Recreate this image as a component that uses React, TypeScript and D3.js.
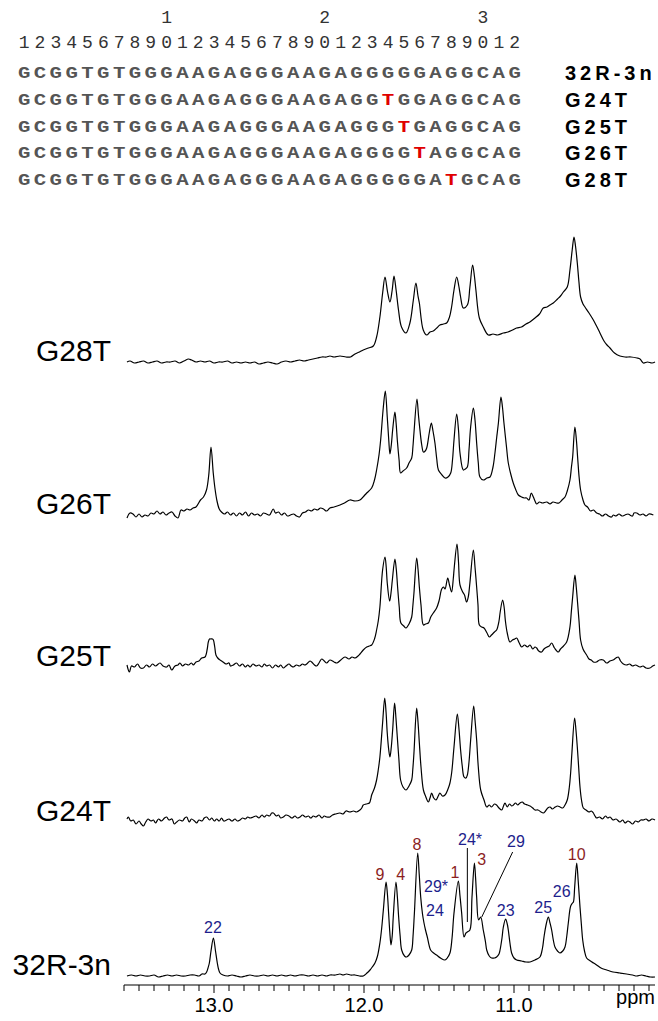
import React from 'react';
import * as d3 from 'd3';

// ---------- sequence panel data ----------
const seqNames = ['32R-3n', 'G24T', 'G25T', 'G26T', 'G28T'];
const sequences = [
  'GCGGTGTGGGAAGAGGGAAGAGGGGGAGGCAG',
  'GCGGTGTGGGAAGAGGGAAGAGGTGGAGGCAG',
  'GCGGTGTGGGAAGAGGGAAGAGGGTGAGGCAG',
  'GCGGTGTGGGAAGAGGGAAGAGGGGTAGGCAG',
  'GCGGTGTGGGAAGAGGGAAGAGGGGGATGCAG',
];
const mutationPositions = [0, 24, 25, 26, 28];
const tensLabels = ['1', '2', '3'];
const tensPositions = [10, 20, 30];

// ---------- spectra data: [ppm, intensity] ----------
const spectrumNames = ['G28T', 'G26T', 'G25T', 'G24T', '32R-3n'];

const g28t: [number, number][] = [
  [13.58,0],[13.56,1],[13.53,-1],[13.50,0],[13.47,1],[13.44,-1],[13.41,0],[13.38,1],[13.35,-1],[13.32,0],[13.29,0],[13.26,1],[13.23,-1],[13.20,1],[13.17,3],[13.15,2],[13.12,0],[13.09,1],[13.06,0],[13.03,1],[13.00,-1],[12.97,0],[12.94,0],[12.91,1],[12.88,-1],[12.85,0],[12.82,-1],[12.79,0],[12.76,-1],[12.73,0],[12.70,-2],[12.67,-1],[12.64,0],[12.61,-1],[12.58,-2],[12.55,0],[12.52,1],[12.49,0],[12.46,1],[12.43,2],[12.40,1],[12.37,2],[12.34,3],[12.31,4],[12.28,5],[12.25,5],[12.227,6],
  [12.20,5],[12.16,6],[12.12,5],[12.09,5],[12.06,8],[12.03,10],[12.005,12],[11.97,14],[11.938,16],[11.916,25],[11.894,45],[11.875,70],[11.86,85],[11.843,70],[11.827,60],[11.812,72],[11.80,86],[11.786,72],[11.77,52],[11.75,35],[11.72,29],[11.694,39],[11.671,62],[11.654,79],[11.64,66],[11.631,59],[11.605,32],[11.582,27],[11.56,30],[11.538,31],[11.515,34],[11.494,37],[11.47,38],[11.449,39],[11.43,45],[11.416,55],[11.40,72],[11.382,85],[11.368,76],[11.356,65],[11.338,54],[11.311,57],[11.294,75],[11.276,97],[11.264,86],[11.254,72],[11.231,44],[11.205,35],[11.171,27],[11.14,28],[11.11,27],[11.071,29],[11.04,30],[11.01,32],[10.983,34],[10.95,35],[10.92,38],[10.894,40],[10.86,44],[10.83,48],[10.805,54],[10.78,55],[10.76,57],[10.738,59],[10.71,63],[10.69,66],[10.671,70],[10.645,75],[10.627,92],[10.612,112],[10.60,125],[10.59,116],[10.578,99],[10.567,80],[10.556,65],[10.54,58],[10.527,55],[10.50,49],[10.471,42],[10.45,36],[10.427,29],[10.40,21],[10.38,17],[10.36,14],[10.33,9],[10.294,6],[10.26,5],[10.22,5],[10.18,4],[10.16,3],[10.138,-1],[10.11,0],[10.08,-1],[10.06,0],
];

const g26t: [number, number][] = [
  [13.58,-3],[13.56,2],[13.54,1],[13.52,-2],[13.50,1],[13.48,-2],[13.46,0],[13.44,-1],[13.42,2],[13.40,1],[13.38,4],[13.36,1],[13.34,3],[13.32,0],[13.30,2],[13.28,3],[13.26,-1],[13.24,-3],[13.22,5],[13.20,4],[13.18,6],[13.16,5],[13.14,7],[13.12,8],[13.09,15],[13.07,18],[13.05,25],[13.035,40],[13.02,68],[13.005,42],[12.993,26],[12.98,14],[12.965,6],[12.95,3],[12.93,1],[12.91,3],[12.89,0],[12.87,2],[12.85,-1],[12.83,2],[12.81,0],[12.79,3],[12.77,-1],[12.75,2],[12.73,0],[12.71,1],[12.69,-1],[12.67,2],[12.65,1],[12.63,0],[12.605,6],[12.59,2],[12.57,3],[12.55,0],[12.53,2],[12.51,-1],[12.49,0],[12.47,1],[12.45,-1],[12.43,-2],[12.41,2],[12.39,3],[12.37,5],[12.35,4],[12.33,6],[12.31,5],[12.29,7],[12.27,6],[12.25,4],[12.227,7],
  [12.20,8],[12.16,10],[12.13,12],[12.094,15],[12.06,14],[12.027,15],[12.00,19],[11.982,22],[11.949,27],[11.93,35],[11.916,45],[11.90,60],[11.889,75],[11.871,108],[11.858,124],[11.845,98],[11.835,75],[11.827,61],[11.818,70],[11.809,85],[11.794,103],[11.786,92],[11.778,75],[11.766,55],[11.756,42],[11.74,44],[11.716,47],[11.70,52],[11.682,57],[11.674,68],[11.667,82],[11.647,116],[11.637,100],[11.627,85],[11.615,70],[11.604,63],[11.592,64],[11.582,67],[11.565,82],[11.551,92],[11.54,84],[11.527,72],[11.515,56],[11.504,45],[11.48,40],[11.46,37],[11.44,38],[11.422,42],[11.41,55],[11.40,75],[11.382,101],[11.37,85],[11.36,62],[11.338,45],[11.325,46],[11.311,48],[11.30,65],[11.289,88],[11.271,107],[11.26,95],[11.249,72],[11.238,52],[11.227,38],[11.205,35],[11.18,37],[11.16,38],[11.14,48],[11.127,62],[11.115,78],[11.104,92],[11.087,118],[11.077,108],[11.067,92],[11.05,68],[11.038,52],[11.02,40],[11.005,32],[10.99,26],[10.971,20],[10.95,18],[10.93,17],[10.916,17],[10.90,15],[10.885,22],[10.871,18],[10.86,14],[10.849,11],[10.83,13],[10.81,12],[10.782,13],[10.76,11],[10.74,13],[10.716,12],[10.70,12],[10.68,15],[10.66,18],[10.645,24],[10.627,35],[10.617,48],[10.609,58],[10.594,88],[10.584,75],[10.576,58],[10.566,38],[10.556,25],[10.54,15],[10.527,10],[10.51,8],[10.49,4],[10.47,5],[10.449,2],[10.43,1],[10.41,-1],[10.39,1],[10.37,-1],[10.35,-2],[10.338,0],[10.32,-1],[10.30,1],[10.28,-1],[10.26,0],[10.24,1],[10.227,0],[10.21,-1],[10.20,2],[10.182,2],[10.16,0],[10.14,1],[10.12,-1],[10.10,1],[10.071,0],
];

const g25t: [number, number][] = [
  [13.58,2],[13.564,-5],[13.55,1],[13.53,0],[13.51,3],[13.49,-1],[13.471,-1],[13.45,2],[13.43,0],[13.41,3],[13.39,1],[13.36,4],[13.34,1],[13.316,0],[13.30,2],[13.282,-3],[13.26,1],[13.24,2],[13.227,4],[13.21,1],[13.19,3],[13.17,2],[13.15,4],[13.138,2],[13.12,5],[13.10,6],[13.082,9],[13.06,10],[13.045,18],[13.038,25],[13.03,28],[13.022,28],[13.01,28],[13.004,27],[12.995,20],[12.987,12],[12.975,9],[12.96,7],[12.94,5],[12.92,3],[12.90,4],[12.89,1],[12.871,2],[12.85,4],[12.83,1],[12.81,3],[12.79,0],[12.775,2],[12.76,0],[12.74,3],[12.72,1],[12.70,2],[12.68,0],[12.665,3],[12.649,1],[12.63,2],[12.61,-1],[12.59,2],[12.57,0],[12.555,2],[12.538,-1],[12.52,1],[12.50,3],[12.485,1],[12.471,0],[12.45,2],[12.43,1],[12.41,3],[12.395,2],[12.382,3],[12.36,6],[12.349,5],[12.33,2],[12.316,1],[12.30,4],[12.282,8],[12.265,6],[12.249,4],[12.227,7],
  [12.20,5],[12.18,4],[12.155,7],[12.127,10],[12.10,8],[12.08,10],[12.06,9],[12.04,11],[12.027,13],[12.005,17],[11.982,20],[11.965,21],[11.949,22],[11.93,28],[11.916,37],[11.905,46],[11.894,60],[11.876,97],[11.86,110],[11.852,100],[11.845,84],[11.829,66],[11.82,74],[11.811,87],[11.794,108],[11.785,98],[11.776,80],[11.765,60],[11.754,44],[11.735,41],[11.72,39],[11.70,43],[11.682,50],[11.675,60],[11.667,74],[11.649,109],[11.64,98],[11.631,80],[11.62,62],[11.604,42],[11.59,43],[11.571,44],[11.555,50],[11.538,54],[11.516,59],[11.50,66],[11.482,78],[11.47,80],[11.46,78],[11.442,89],[11.43,82],[11.416,75],[11.405,88],[11.398,100],[11.38,123],[11.37,105],[11.36,82],[11.342,75],[11.33,72],[11.316,65],[11.305,70],[11.294,84],[11.271,117],[11.26,100],[11.249,80],[11.24,62],[11.231,42],[11.215,40],[11.20,39],[11.18,34],[11.164,30],[11.15,32],[11.13,35],[11.116,37],[11.10,46],[11.093,54],[11.076,67],[11.066,60],[11.058,47],[11.045,34],[11.027,25],[11.01,27],[10.995,28],[10.982,29],[10.965,24],[10.949,20],[10.93,22],[10.91,20],[10.893,22],[10.875,18],[10.86,20],[10.849,19],[10.835,16],[10.816,15],[10.80,18],[10.78,20],[10.765,21],[10.749,24],[10.73,19],[10.705,15],[10.69,18],[10.67,21],[10.649,25],[10.627,40],[10.618,55],[10.609,70],[10.594,92],[10.585,80],[10.576,64],[10.566,45],[10.556,27],[10.54,18],[10.516,12],[10.50,8],[10.485,7],[10.471,5],[10.45,5],[10.43,7],[10.405,7],[10.382,4],[10.36,6],[10.34,7],[10.32,9],[10.305,10],[10.29,6],[10.271,3],[10.25,2],[10.23,3],[10.21,1],[10.19,2],[10.16,0],[10.14,1],[10.12,-1],[10.094,-1],[10.075,1],[10.06,2],
];

const g24t: [number, number][] = [
  [13.58,3],[13.571,5],[13.555,1],[13.538,2],[13.52,-2],[13.50,1],[13.485,-2],[13.471,-4],[13.455,0],[13.44,3],[13.42,1],[13.404,2],[13.39,-1],[13.37,3],[13.35,1],[13.33,4],[13.316,5],[13.30,2],[13.28,3],[13.265,-2],[13.249,0],[13.23,2],[13.21,1],[13.195,4],[13.182,5],[13.165,0],[13.15,3],[13.13,1],[13.116,-1],[13.10,2],[13.08,1],[13.065,4],[13.049,5],[13.03,2],[13.015,4],[12.998,1],[12.982,3],[12.965,1],[12.95,4],[12.935,1],[12.916,2],[12.90,3],[12.88,1],[12.86,3],[12.845,1],[12.827,2],[12.81,4],[12.79,3],[12.775,5],[12.76,4],[12.738,5],[12.72,6],[12.70,4],[12.68,7],[12.665,5],[12.649,7],[12.63,6],[12.615,9],[12.604,9],[12.585,6],[12.57,7],[12.555,4],[12.538,5],[12.52,7],[12.50,6],[12.48,4],[12.46,6],[12.445,4],[12.427,5],[12.41,7],[12.39,5],[12.37,6],[12.355,4],[12.338,6],[12.32,5],[12.30,7],[12.28,4],[12.265,6],[12.249,5],[12.227,5],
  [12.21,7],[12.19,8],[12.16,9],[12.14,8],[12.12,11],[12.094,10],[12.07,11],[12.05,10],[12.027,12],[12.015,14],[12.005,17],[11.985,18],[11.964,19],[11.955,23],[11.949,27],[11.93,34],[11.916,42],[11.905,52],[11.894,65],[11.876,99],[11.862,124],[11.853,110],[11.845,89],[11.835,72],[11.827,65],[11.818,75],[11.809,92],[11.796,119],[11.787,104],[11.778,85],[11.767,62],[11.756,42],[11.74,35],[11.72,32],[11.70,36],[11.682,42],[11.675,52],[11.667,69],[11.649,114],[11.64,100],[11.631,79],[11.62,55],[11.604,32],[11.59,26],[11.571,20],[11.56,24],[11.549,29],[11.535,24],[11.52,22],[11.505,26],[11.494,29],[11.478,26],[11.46,27],[11.44,33],[11.427,39],[11.415,50],[11.40,75],[11.378,108],[11.368,95],[11.356,72],[11.345,56],[11.333,45],[11.32,44],[11.311,47],[11.30,60],[11.289,82],[11.269,116],[11.26,102],[11.249,82],[11.238,55],[11.222,32],[11.20,22],[11.182,15],[11.165,17],[11.15,15],[11.13,18],[11.116,17],[11.10,14],[11.082,12],[11.07,16],[11.06,19],[11.045,15],[11.03,18],[11.015,16],[11.004,17],[10.99,19],[10.975,17],[10.96,19],[10.945,20],[10.93,18],[10.91,17],[10.893,16],[10.875,14],[10.86,12],[10.84,12],[10.82,10],[10.805,9],[10.79,11],[10.775,14],[10.76,15],[10.745,13],[10.725,15],[10.71,16],[10.693,15],[10.675,14],[10.66,17],[10.645,22],[10.631,35],[10.622,50],[10.614,69],[10.596,104],[10.587,92],[10.578,75],[10.569,55],[10.56,35],[10.55,22],[10.538,14],[10.52,12],[10.50,10],[10.485,11],[10.471,9],[10.46,6],[10.449,4],[10.43,5],[10.41,3],[10.39,6],[10.375,4],[10.36,5],[10.34,2],[10.32,3],[10.294,0],[10.275,2],[10.26,-1],[10.24,1],[10.227,0],[10.21,-2],[10.19,1],[10.17,0],[10.155,2],[10.138,2],[10.12,3],[10.10,1],[10.08,3],[10.06,2],
];

const r32: [number, number][] = [
  [13.58,0],[13.55,1],[13.52,0],[13.49,1],[13.46,0],[13.43,0],[13.40,1],[13.37,-1],[13.34,0],[13.31,1],[13.28,0],[13.25,1],[13.22,0],[13.19,0],[13.16,1],[13.13,1],[13.10,0],[13.08,2],[13.06,2],[13.049,4],[13.04,8],[13.031,13],[13.02,25],[13.004,38],[12.99,25],[12.978,13],[12.97,7],[12.96,3],[12.94,1],[12.91,0],[12.88,1],[12.85,0],[12.82,-1],[12.79,0],[12.76,1],[12.73,0],[12.70,0],[12.67,1],[12.64,0],[12.61,1],[12.58,0],[12.55,1],[12.52,0],[12.49,1],[12.46,0],[12.43,1],[12.40,1],[12.37,0],[12.34,1],[12.31,0],[12.28,1],[12.25,0],[12.227,1],
  [12.19,1],[12.16,2],[12.14,1],[12.116,2],[12.09,1],[12.06,1],[12.03,0],[12.005,0],[11.98,3],[11.96,6],[11.945,9],[11.927,13],[11.91,20],[11.894,33],[11.882,48],[11.871,66],[11.853,94],[11.844,82],[11.836,63],[11.828,44],[11.82,31],[11.812,40],[11.805,59],[11.787,94],[11.778,80],[11.769,59],[11.759,40],[11.749,26],[11.73,20],[11.716,19],[11.70,21],[11.682,26],[11.673,40],[11.664,63],[11.642,123],[11.632,102],[11.622,79],[11.61,62],[11.60,53],[11.59,46],[11.578,39],[11.556,26],[11.536,23],[11.516,21],[11.49,18],[11.46,16],[11.445,18],[11.427,23],[11.413,38],[11.40,63],[11.371,95],[11.36,80],[11.349,63],[11.333,39],[11.32,43],[11.311,44],[11.294,46],[11.28,79],[11.264,113],[11.256,98],[11.249,79],[11.236,56],[11.222,59],[11.205,46],[11.19,34],[11.182,26],[11.165,20],[11.149,18],[11.13,18],[11.116,19],[11.10,22],[11.093,26],[11.08,38],[11.071,49],[11.056,57],[11.045,52],[11.038,46],[11.027,33],[11.016,23],[11.00,18],[10.982,16],[10.95,15],[10.92,14],[10.893,14],[10.86,16],[10.827,19],[10.81,28],[10.80,39],[10.785,52],[10.771,59],[10.76,53],[10.749,46],[10.738,36],[10.727,29],[10.71,25],[10.694,23],[10.675,25],[10.66,29],[10.648,40],[10.638,53],[10.622,70],[10.61,73],[10.604,74],[10.595,90],[10.582,113],[10.572,95],[10.56,69],[10.55,50],[10.542,36],[10.53,25],[10.516,18],[10.49,15],[10.47,13],[10.449,11],[10.42,8],[10.382,6],[10.34,4],[10.294,3],[10.25,2],[10.21,1],[10.182,0],[10.15,1],[10.12,0],[10.09,-1],[10.06,-1],
];

const spectra = [g28t, g26t, g25t, g24t, r32];

// ---------- peak assignments (32R-3n): [label, ppm, intensity, group] ----------
const assignLabels: [string, number, number, 'red' | 'blue'][] = [
  ['22', 13.007, 43, 'blue'],
  ['9', 11.893, 96, 'red'],
  ['4', 11.755, 96, 'red'],
  ['8', 11.647, 126, 'red'],
  ['29*', 11.52, 84, 'blue'],
  ['24', 11.527, 60, 'blue'],
  ['1', 11.393, 98, 'red'],
  ['24*', 11.293, 131, 'blue'],
  ['3', 11.215, 111, 'red'],
  ['29', 10.987, 129, 'blue'],
  ['23', 11.055, 60, 'blue'],
  ['25', 10.805, 63, 'blue'],
  ['26', 10.682, 79, 'blue'],
  ['10', 10.582, 116, 'red'],
];
// leader lines: [ppm1, int1, ppm2, int2]
const leaderLines: [number, number, number, number][] = [
  [11.311, 128, 11.311, 54],
  [11.009, 124, 11.215, 59],
];

const ppmDomain: [number, number] = [13.6, 10.06];
const majorTickValues = [13.0, 12.0, 11.0];

export default function App() {
  const W = 658, H = 1021;
  const x = d3.scaleLinear().domain(ppmDomain).range([124, 655]);
  const baselines = [362, 515, 667, 822, 976];
  const axisY = 985;
  const sans = 'Arial, "Liberation Sans", sans-serif';
  const mono = '"Courier New", "Liberation Mono", monospace';
  const charX = (i: number) => 24.2 + i * 15.82;
  const seqBase = (r: number) => 78.3 + r * 26.7;
  const red = '#e00000';
  const annRed = '#8b1e1e';
  const annBlue = '#1e1e8c';

  const ticks = d3.ticks(ppmDomain[1], ppmDomain[0], 36);

  const yFor = (i: number) => d3.scaleLinear().domain([0, 100]).range([baselines[i], baselines[i] - 100]);

  return (
    <svg width={W} height={H} style={{ position: 'absolute', left: 0, top: 0, background: '#fff' }}>
      <rect x={0} y={0} width={W} height={H} fill="#fff" />
      {/* Sequence header */}
      {tensLabels.map((t, k) => (
        <text key={'t' + k} x={charX(tensPositions[k] - 1)} y={23.3} fontFamily={mono} fontSize={18} fill="#333" textAnchor="middle">{t}</text>
      ))}
      {d3.range(32).map((i) => (
        <text key={'n' + i} x={charX(i)} y={48.3} fontFamily={mono} fontSize={18} fill="#333" textAnchor="middle">{String((i + 1) % 10)}</text>
      ))}
      {sequences.map((s, r) => (
        <g key={'s' + r}>
          {s.split('').map((c, i) => (
            <text key={i} transform={`translate(${charX(i)},${seqBase(r)}) scale(1.22,1)`} fontFamily={mono} fontWeight="bold" fontSize={17}
              fill={mutationPositions[r] === i + 1 ? red : '#555'} textAnchor="middle">{c}</text>
          ))}
          <text x={565} y={seqBase(r) + 2} fontFamily={sans} fontWeight="bold" fontSize={20} letterSpacing={4} fill="#000">{seqNames[r]}</text>
        </g>
      ))}

      {/* Spectra */}
      {spectra.map((data, i) => {
        const y = yFor(i);
        const line = d3.line<[number, number]>()
          .x((d) => x(d[0]))
          .y((d) => y(d[1]))
          .curve(d3.curveCatmullRom.alpha(0.5));
        return (
          <g key={'sp' + i}>
            <path d={line(data) || ''} fill="none" stroke="#000" strokeWidth={1.2} strokeLinejoin="round" />
            <text x={111} y={baselines[i] - 1} fontFamily={sans} fontSize={30} textAnchor="end" fill="#000">{spectrumNames[i]}</text>
          </g>
        );
      })}

      {/* Assignments on 32R-3n */}
      {(() => {
        const y = yFor(4);
        return (
          <g>
            {leaderLines.map((l, k) => (
              <line key={'ll' + k} x1={x(l[0])} y1={y(l[1])} x2={x(l[2])} y2={y(l[3])} stroke="#000" strokeWidth={1} />
            ))}
            {assignLabels.map((a, k) => (
              <text key={'a' + k} x={x(a[1])} y={y(a[2])} fontFamily={sans} fontSize={16} textAnchor="middle"
                fill={a[3] === 'red' ? annRed : annBlue}>{a[0]}</text>
            ))}
          </g>
        );
      })()}

      {/* Axis */}
      <line x1={x(ppmDomain[0])} x2={x(ppmDomain[1])} y1={axisY} y2={axisY} stroke="#000" strokeWidth={1.2} />
      {ticks.map((t, k) => {
        const major = majorTickValues.some((m) => Math.abs(m - t) < 1e-6);
        return <line key={'tk' + k} x1={x(t)} x2={x(t)} y1={axisY} y2={axisY + (major ? 8 : 6)} stroke="#000" strokeWidth={1} />;
      })}
      {majorTickValues.map((m) => (
        <text key={'ml' + m} x={x(m)} y={1012} fontFamily={sans} fontSize={20} textAnchor="middle" fill="#000">{m.toFixed(1)}</text>
      ))}
      <text x={655} y={1004} fontFamily={sans} fontSize={20} textAnchor="end" fill="#000">ppm</text>
    </svg>
  );
}
